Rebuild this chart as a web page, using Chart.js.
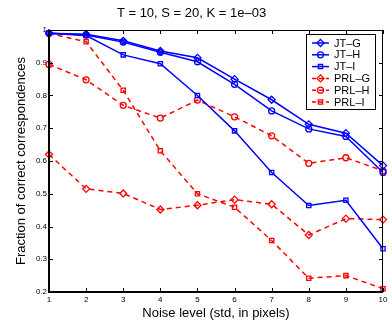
<!DOCTYPE html>
<html>
<head>
<meta charset="utf-8">
<script src="https://cdn.jsdelivr.net/npm/chart.js@4/dist/chart.umd.min.js"></script>
<style>
  html, body { margin: 0; padding: 0; background: #fff; }
  #wrap { width: 392px; height: 329px; }
</style>
</head>
<body>
<div id="wrap"><canvas id="chart" width="392" height="329"></canvas></div>
<script>
// chart values
const noiseLevels = [1, 2, 3, 4, 5, 6, 7, 8, 9, 10];
const jtG  = [0.99, 0.987, 0.967, 0.936, 0.915, 0.850, 0.787, 0.712, 0.685, 0.586];
const jtH  = [0.99, 0.985, 0.963, 0.932, 0.903, 0.834, 0.753, 0.698, 0.675, 0.565];
const jtI  = [0.99, 0.983, 0.924, 0.897, 0.800, 0.692, 0.565, 0.464, 0.480, 0.332];
const prlG = [0.62, 0.515, 0.501, 0.452, 0.465, 0.482, 0.468, 0.374, 0.424, 0.421];
const prlH = [0.895, 0.848, 0.770, 0.731, 0.786, 0.735, 0.677, 0.593, 0.610, 0.570];
const prlI = [0.99, 0.964, 0.816, 0.631, 0.500, 0.459, 0.357, 0.242, 0.250, 0.210];
const yTickLabels = ['0.2', '0.3', '0.4', '0.5', '0.6', '0.7', '0.8', '0.9', '1'];
const xTickLabels = ['1', '2', '3', '4', '5', '6', '7', '8', '9', '10'];

const FONT = '"Liberation Sans", Arial, Helvetica, sans-serif';
const BLUE = '#0000ff';
const RED = '#ff0000';

function toPoints(values) {
    return noiseLevels.map((x, i) => ({ x: x, y: values[i] }));
}

function makeSet(label, values, color, marker, dashed) {
    return {
        label: label,
        data: toPoints(values),
        borderColor: color,
        backgroundColor: 'rgba(0,0,0,0)',
        borderWidth: 1.5,
        borderDash: dashed ? [5, 4] : [],
        pointStyle: marker,
        pointRadius: marker === 'rectRot' ? 3.5 : 3,
        pointBorderColor: color,
        pointBackgroundColor: 'rgba(0,0,0,0)',
        pointBorderWidth: 1.3,
        tension: 0,
        clip: false
    };
}

const datasets = [
    makeSet('JT–G', jtG, BLUE, 'rectRot', false),
    makeSet('JT–H', jtH, BLUE, 'circle', false),
    makeSet('JT–I', jtI, BLUE, 'rect', false),
    makeSet('PRL–G', prlG, RED, 'rectRot', true),
    makeSet('PRL–H', prlH, RED, 'circle', true),
    makeSet('PRL–I', prlI, RED, 'rect', true)
];

// MATLAB style box with inward ticks on all four sides
const boxAxes = {
    id: 'boxAxes',
    afterDatasetsDraw(chart) {
        const ctx = chart.ctx;
        const a = chart.chartArea;
        const xs = chart.scales.x;
        const ys = chart.scales.y;
        ctx.save();
        ctx.strokeStyle = '#000';
        ctx.lineWidth = 1;
        ctx.beginPath();
        xs.ticks.forEach(t => {
            const px = Math.round(xs.getPixelForValue(t.value)) + 0.5;
            ctx.moveTo(px, a.bottom); ctx.lineTo(px, a.bottom - 4);
            ctx.moveTo(px, a.top); ctx.lineTo(px, a.top + 4);
        });
        ys.ticks.forEach(t => {
            const py = Math.round(ys.getPixelForValue(t.value)) + 0.5;
            ctx.moveTo(a.left, py); ctx.lineTo(a.left + 4, py);
            ctx.moveTo(a.right, py); ctx.lineTo(a.right - 4, py);
        });
        ctx.moveTo(a.left, a.top + 0.5); ctx.lineTo(a.right, a.top + 0.5);
        ctx.moveTo(a.right - 0.5, a.top); ctx.lineTo(a.right - 0.5, a.bottom);
        ctx.stroke();
        ctx.lineWidth = 2;
        ctx.beginPath();
        ctx.moveTo(a.left, a.top); ctx.lineTo(a.left, a.bottom);
        ctx.lineTo(a.right, a.bottom);
        ctx.stroke();
        ctx.restore();
    }
};

// legend box inside the plot, top right
const boxLegend = {
    id: 'boxLegend',
    afterDraw(chart) {
        const ctx = chart.ctx;
        const left = 306, top = 34, w = 69, h = 75;
        ctx.save();
        ctx.fillStyle = '#fff';
        ctx.fillRect(left, top, w, h);
        ctx.strokeStyle = '#000';
        ctx.lineWidth = 1;
        ctx.strokeRect(left + 0.5, top + 0.5, w, h);
        ctx.font = '11px ' + FONT;
        ctx.textBaseline = 'middle';
        chart.data.datasets.forEach((ds, i) => {
            const y = top + 9 + i * 11.8;
            ctx.strokeStyle = ds.borderColor;
            ctx.lineWidth = 1.5;
            ctx.setLineDash(ds.borderDash.length ? [4, 3] : []);
            ctx.beginPath();
            ctx.moveTo(312, y); ctx.lineTo(329, y);
            ctx.stroke();
            ctx.setLineDash([]);
            ctx.lineWidth = 1.3;
            ctx.fillStyle = 'rgba(0,0,0,0)';
            Chart.helpers.drawPoint(ctx, {
                pointStyle: ds.pointStyle,
                rotation: 0,
                radius: ds.pointRadius,
                borderWidth: 1.3
            }, 320.5, y);
            ctx.fillStyle = '#000';
            ctx.fillText(ds.label, 334, y + 0.5);
        });
        ctx.restore();
    }
};

const ctx = document.getElementById('chart').getContext('2d');
const chart = new Chart(ctx, {
    type: 'line',
    data: { datasets: datasets },
    options: {
        responsive: false,
        animation: false,
        devicePixelRatio: 1,
        layout: { padding: { left: 0, right: 9, top: 0, bottom: 0 } },
        plugins: {
            legend: { display: false },
            tooltip: { enabled: false },
            title: {
                display: true,
                text: 'T = 10, S = 20, K = 1e–03',
                color: '#000',
                font: { family: FONT, size: 13, weight: 'normal', lineHeight: 1.2 },
                padding: { top: 6, bottom: 8.4 }
            }
        },
        scales: {
            x: {
                type: 'linear',
                min: 1,
                max: 10,
                border: { display: false },
                grid: { display: false, drawTicks: false },
                afterFit(scale) { scale.height = 37; },
                afterBuildTicks(scale) {
                    scale.ticks = noiseLevels.map(v => ({ value: v }));
                },
                ticks: {
                    color: '#000',
                    padding: 3,
                    maxRotation: 0,
                    autoSkip: false,
                    font: { family: FONT, size: 8 },
                    callback: (v) => xTickLabels[noiseLevels.indexOf(v)]
                },
                title: {
                    display: true,
                    text: 'Noise level (std, in pixels)',
                    color: '#000',
                    font: { family: FONT, size: 13, lineHeight: 1.2 },
                    padding: { top: 0, bottom: 8 }
                }
            },
            y: {
                type: 'linear',
                min: 0.2,
                max: 1,
                border: { display: false },
                grid: { display: false, drawTicks: false },
                afterFit(scale) { scale.width = 49; },
                afterBuildTicks(scale) {
                    scale.ticks = yTickLabels.map(s => ({ value: parseFloat(s) }));
                },
                ticks: {
                    color: '#000',
                    padding: 2,
                    autoSkip: false,
                    font: { family: FONT, size: 8 },
                    callback: (v) => yTickLabels.find(s => Math.abs(parseFloat(s) - v) < 1e-6)
                },
                title: {
                    display: true,
                    text: 'Fraction of correct correspondences',
                    color: '#000',
                    font: { family: FONT, size: 13, lineHeight: 1.2 },
                    padding: { top: 14, bottom: 0 }
                }
            }
        }
    },
    plugins: [boxAxes, boxLegend]
});
</script>
</body>
</html>
